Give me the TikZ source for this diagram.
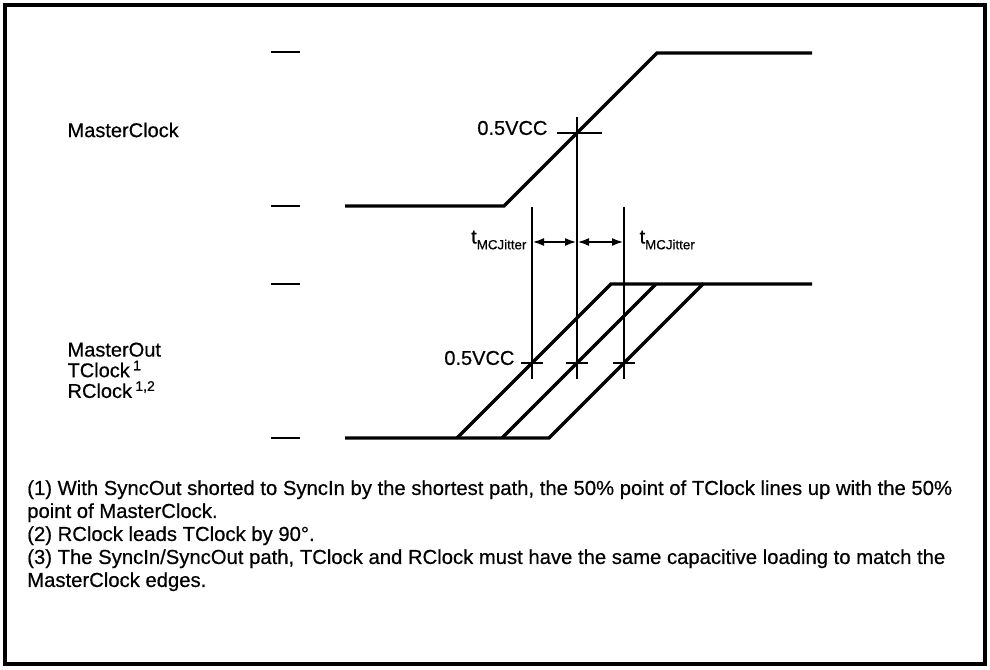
\documentclass[tikz,border=0pt]{standalone}
\usepackage{fontspec}
\setmainfont{Liberation Sans}[FakeBold=0.5]
\usetikzlibrary{arrows.meta}

\tikzset{
  wave/.style={line width=2.6, line join=miter},
  mark line/.style={line width=2},
  lvl/.style={line width=2.2},
  lbl/.style={font=\fontsize{15}{15}\selectfont, inner sep=1},
  jit/.style={line width=1.8, {Latex[length=9pt,width=6pt]}-{Latex[length=9pt,width=6pt]}}
}
\newcommand{\tjit}{t\raisebox{-0.55ex}{\fontsize{10}{10}\selectfont MCJitter}}

\begin{document}
\begin{tikzpicture}[x=0.75pt,y=0.75pt,yscale=-1,xscale=1]
			\useasboundingbox (0,0) rectangle (990,670);
			%Frame
			\draw [line width=2.8] (5,5) rectangle (985,664);

			%Level marks
			\foreach \y in {52,206,284,438}
				\draw [lvl] (271,\y) -- (300,\y);

			%MasterClock wave
			\draw [wave] (345,206) -- (504,206) -- (657,53) -- (812,53);
			\node [lbl, anchor=west] (mclk) at (66,130) {MasterClock};

			%Output waves: MasterOut, TClock, RClock
			\draw [wave] (345,438) -- (549,438) -- (703,284) -- (812,284);
			\draw [wave] (457,438) -- (611,284) -- (703,284);
			\draw [wave] (502,438) -- (656,284);
			\node [lbl, anchor=north west, align=left, font=\fontsize{15}{15.5}\selectfont] (mout) at (66,341)
				{MasterOut\\TClock\,\textsuperscript{1}\\RClock\,\textsuperscript{1,2}};

			%Reference line through 0.5VCC of MasterClock
			\draw [mark line] (577,117) -- (577,379);
			\draw [lvl] (557,133) -- (602,133);
			\node [lbl, anchor=east] (vtop) at (549,128) {0.5VCC};

			%Jitter bounds
			\draw [mark line] (532,207) -- (532,379);
			\draw [mark line] (624,207) -- (624,379);
			\foreach \x in {532,577,624}
				\draw [mark line] (\x-11,363) -- (\x+11,363);
			\node [lbl, anchor=east] (vbot) at (516,358) {0.5VCC};

			%Jitter arrows
			\draw [jit] (532,242) -- (577,242);
			\draw [jit] (577,242) -- (624,242);
			\node [lbl, anchor=east] (jl) at (528,240) {\tjit};
			\node [lbl, anchor=west] (jr) at (638,240) {\tjit};

			%Notes
			\node [anchor=north west, align=left, inner sep=0, font=\fontsize{15.2}{17.25}\selectfont] (notes) at (27,480)
				{(1) With SyncOut shorted to SyncIn by the shortest path, the 50\% point of TClock lines up with the 50\%\\
				 point of MasterClock.\\
				 (2) RClock leads TClock by 90°.\\
				 (3) The SyncIn/SyncOut path, TClock and RClock must have the same capacitive loading to match the\\
				 MasterClock edges.};
\end{tikzpicture}
\end{document}
